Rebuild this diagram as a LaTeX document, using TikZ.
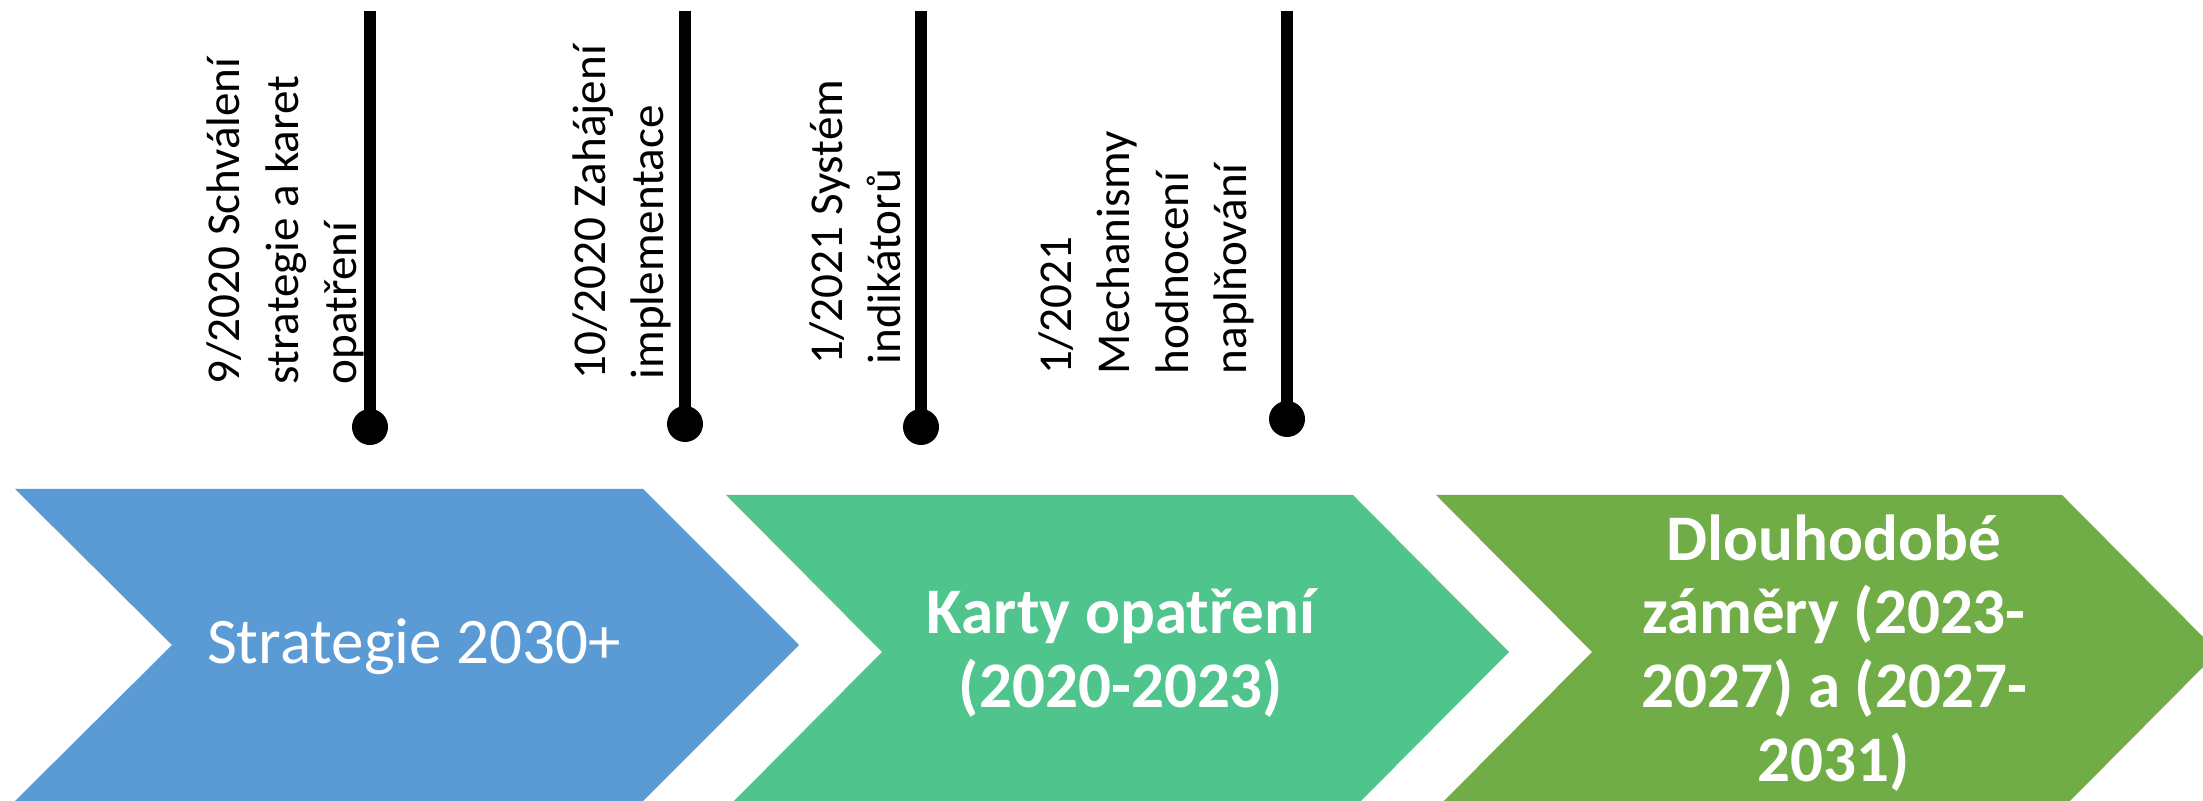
\documentclass[tikz,border=0pt]{standalone}
\usepackage{fontspec}
\setmainfont{Carlito}
\usetikzlibrary{positioning}
\definecolor{stratblue}{RGB}{91,155,213}
\definecolor{kartygreen}{RGB}{80,196,141}
\definecolor{zamergreen}{RGB}{112,173,71}

\begin{document}
\begin{tikzpicture}[x=0.01cm,y=-0.01cm,
		chevtext/.style={text=white,align=center,inner sep=0pt,font=\fontsize{18.5}{21}\selectfont},
		pintext/.style={rotate=90,anchor=south west,align=left,inner sep=0pt,font=\fontsize{13.4}{16.6}\selectfont},
		pin line/.style={line width=0.12cm},
		dot/.style={circle,fill=black,inner sep=0pt,minimum size=0.36cm}]
		
		\useasboundingbox (0,0) rectangle (2203,801);
		\clip (0,0) rectangle (2203,801);
		
		% chevrons
		\fill[stratblue] (15,489) -- (643,489) -- (799,645) -- (643,801) -- (15,801) -- (172,645) -- cycle;
		\fill[kartygreen] (726,495) -- (1353,495) -- (1509,652) -- (1353,809) -- (726,809) -- (882,652) -- cycle;
		\fill[zamergreen] (1436,495) -- (2062,495) -- (2218,652) -- (2062,809) -- (1436,809) -- (1592,652) -- cycle;
		
		\node[chevtext,anchor=base] (s) at (414,664) {Strategie 2030+};
		\node[chevtext,font=\fontsize{18.5}{21}\selectfont\bfseries] (k) at (1121,653) {Karty opatření\\(2020-2023)};
		\node[chevtext,font=\fontsize{18.5}{21}\selectfont\bfseries] (z) at (1834,653) {Dlouhodobé\\záměry (2023-\\2027) a (2027-\\2031)};
		
		% milestones
		\foreach \n/\x/\y in {1/370/427,2/685/424,3/921/427,4/1287/419}{
			\node[dot] (d\n) at (\x,\y) {};
			\coordinate (t\n) at (\x,11);
			\draw[pin line] (t\n) -- (d\n.center);
		}
		
		\node[pintext] (l1) at (365,385) {9/2020 Schválení\\strategie a karet\\opatření};
		\node[pintext] (l2) at (672,380) {10/2020 Zahájení\\implementace};
		\node[pintext] (l3) at (902,365) {1/2021 Systém\\indikátorů};
		\node[pintext] (l4) at (1255,375) {1/2021\\Mechanismy\\hodnocení\\naplňování};
\end{tikzpicture}
\end{document}
